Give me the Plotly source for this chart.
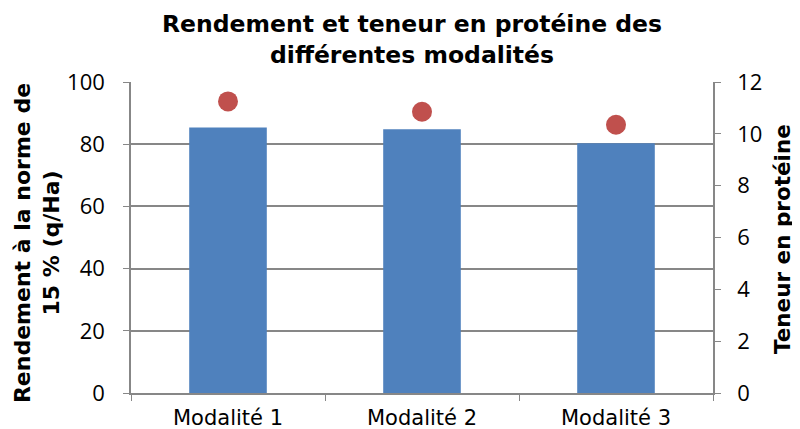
import plotly.graph_objects as go

modalites = ['Modalité 1', 'Modalité 2', 'Modalité 3']
rendement = [85.4, 84.8, 80.3]
proteine = [11.25, 10.85, 10.35]

COULEUR_BARRE = '#4F81BD'
COULEUR_POINT = '#C0504D'
GRIS = '#878787'
POLICE = 'DejaVu Sans'

fig = go.Figure()

fig.add_trace(go.Bar(
    x=modalites,
    y=rendement,
    marker_color=COULEUR_BARRE,
    marker_line_width=0,
    showlegend=False,
))

fig.add_trace(go.Scatter(
    x=modalites,
    y=proteine,
    mode='markers',
    marker=dict(size=20, color=COULEUR_POINT),
    yaxis='y2',
    showlegend=False,
))

# titres posés en annotations pour garder la zone de tracé fixe
titres = [
    dict(text='<b>Rendement et teneur en protéine des<br>différentes modalités</b>',
         x=0.482, y=1.138, textangle=0, size=23.5),
    dict(text='<b>Rendement à la norme de<br>15 % (q/Ha)</b>',
         x=-0.1615, y=0.482, textangle=-90, size=22),
    dict(text='<b>Teneur en protéine</b>',
         x=1.1186, y=0.495, textangle=-90, size=21.5),
]

# la page ajoute une marge de 8 px autour de la figure
fig.update_layout(
    width=792,
    height=421,
    paper_bgcolor='white',
    plot_bgcolor='white',
    margin=dict(l=123, r=87, t=74, b=36),
    bargap=0.6,
    font=dict(family=POLICE, size=16, color='black'),
    annotations=[
        dict(
            text=t['text'], x=t['x'], y=t['y'],
            xref='paper', yref='paper',
            xanchor='center', yanchor='middle',
            textangle=t['textangle'], showarrow=False,
            font=dict(size=t['size'], family=POLICE, color='black'),
        )
        for t in titres
    ],
    xaxis=dict(
        showline=True,
        linecolor=GRIS,
        linewidth=1.5,
        ticks='outside',
        tickson='boundaries',
        ticklen=6,
        tickcolor=GRIS,
        tickfont=dict(size=21),
        ticklabelstandoff=5,
        showgrid=False,
        automargin=False,
    ),
    yaxis=dict(
        range=[0, 100],
        dtick=20,
        showline=True,
        linecolor=GRIS,
        linewidth=1.5,
        ticks='outside',
        ticklen=6,
        tickcolor=GRIS,
        showgrid=True,
        gridcolor=GRIS,
        gridwidth=1.5,
        zeroline=False,
        tickfont=dict(size=22, family='Open Sans'),
        ticklabelstandoff=14,
        automargin=False,
    ),
    yaxis2=dict(
        range=[0, 12],
        dtick=2,
        overlaying='y',
        side='right',
        showline=True,
        linecolor=GRIS,
        linewidth=1.5,
        ticks='outside',
        ticklen=6,
        tickcolor=GRIS,
        showgrid=False,
        zeroline=False,
        tickfont=dict(size=22, family='Open Sans'),
        ticklabelstandoff=12,
        automargin=False,
    ),
)

fig.write_html('out.html')
